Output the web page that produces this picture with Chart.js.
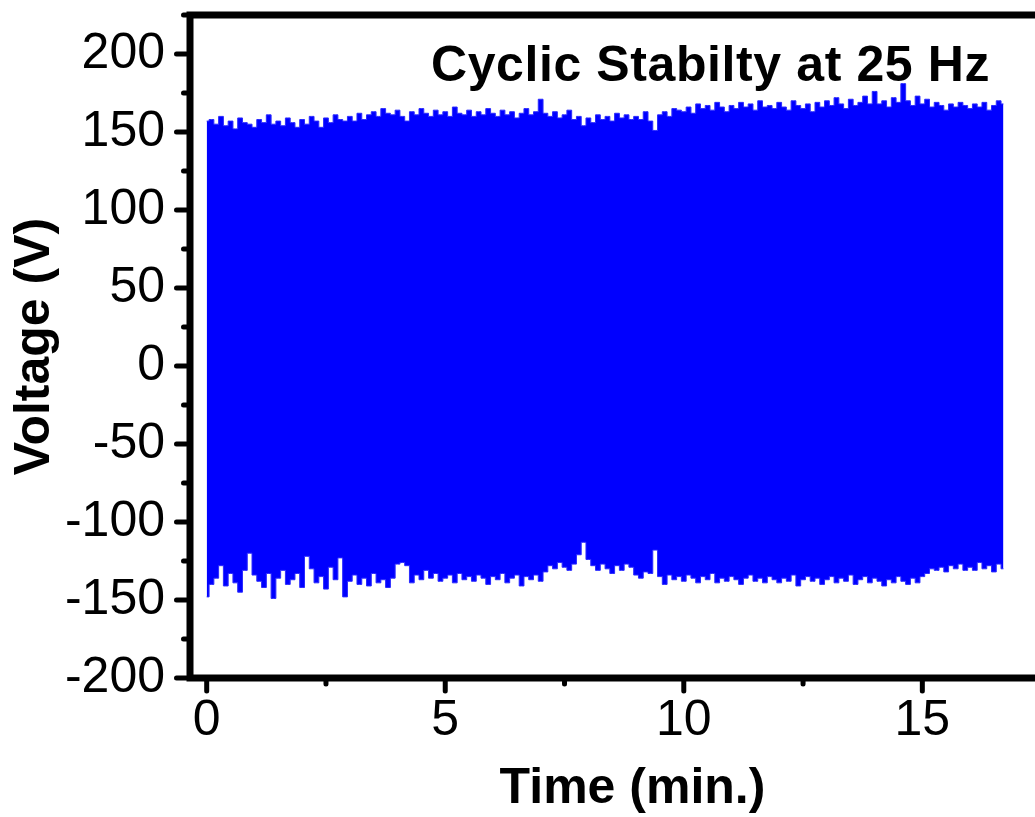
<!DOCTYPE html>
<html><head><meta charset="utf-8">
<script src="https://cdn.jsdelivr.net/npm/chart.js@4.4.1/dist/chart.umd.min.js"></script>
<style>
html,body{margin:0;padding:0;overflow:hidden;background:#fff;width:1035px;height:817px}
#wrap{position:absolute;left:0;top:0;width:1090px;height:817px}
</style>
</head><body><div id="wrap"><canvas id="c" width="1090" height="817"></canvas></div>
<script>
// time axis (min), sampled every 0.1 min
const times = [
0,0.1,0.2,0.3,0.4,0.5,0.6,0.7,0.8,0.9,
1,1.1,1.2,1.3,1.4,1.5,1.6,1.7,1.8,1.9,
2,2.1,2.2,2.3,2.4,2.5,2.6,2.7,2.8,2.9,
3,3.1,3.2,3.3,3.4,3.5,3.6,3.7,3.8,3.9,
4,4.1,4.2,4.3,4.4,4.5,4.6,4.7,4.8,4.9,
5,5.1,5.2,5.3,5.4,5.5,5.6,5.7,5.8,5.9,
6,6.1,6.2,6.3,6.4,6.5,6.6,6.7,6.8,6.9,
7,7.1,7.2,7.3,7.4,7.5,7.6,7.7,7.8,7.9,
8,8.1,8.2,8.3,8.4,8.5,8.6,8.7,8.8,8.9,
9,9.1,9.2,9.3,9.4,9.5,9.6,9.7,9.8,9.9,
10,10.1,10.2,10.3,10.4,10.5,10.6,10.7,10.8,10.9,
11,11.1,11.2,11.3,11.4,11.5,11.6,11.7,11.8,11.9,
12,12.1,12.2,12.3,12.4,12.5,12.6,12.7,12.8,12.9,
13,13.1,13.2,13.3,13.4,13.5,13.6,13.7,13.8,13.9,
14,14.1,14.2,14.3,14.4,14.5,14.6,14.7,14.8,14.9,
15,15.1,15.2,15.3,15.4,15.5,15.6,15.7,15.8,15.9,
16,16.1,16.2,16.3,16.4,16.5,16.6,16.7
];
// upper envelope of the voltage signal (V)
const upperV = [
157,158,155,160,154,157,152,159,156,155,
153,158,156,161,155,157,154,159,156,153,
158,155,160,157,153,159,156,161,158,157,
160,157,162,158,161,163,160,165,162,161,
164,160,157,163,161,165,162,160,164,161,
163,160,166,162,161,164,160,163,161,165,
162,160,164,161,163,159,162,165,161,163,
171,162,160,163,159,161,164,158,160,154,
159,156,161,158,160,157,162,159,161,158,
160,158,163,157,151,161,163,160,165,164,
163,166,162,168,165,167,164,169,166,163,
167,165,169,166,168,164,170,166,167,165,
169,166,164,170,167,165,168,163,169,166,
170,167,172,168,165,171,167,169,173,168,
176,168,170,166,172,169,181,170,167,173,
168,171,166,169,167,164,168,166,169,167,
165,168,166,169,164,167,170,168
];
// lower envelope of the voltage signal (V)
const lowerV = [
-148,-140,-136,-128,-141,-133,-139,-145,-131,-120,
-134,-138,-142,-133,-149,-136,-131,-140,-137,-133,
-142,-122,-130,-139,-135,-143,-129,-137,-123,-148,
-138,-134,-140,-136,-141,-133,-139,-137,-142,-136,
-127,-126,-128,-139,-134,-137,-131,-136,-133,-138,
-136,-134,-139,-133,-137,-135,-138,-134,-136,-140,
-135,-137,-133,-139,-136,-134,-141,-135,-137,-134,
-138,-132,-128,-130,-126,-129,-131,-127,-121,-113,
-124,-128,-131,-127,-130,-133,-128,-131,-127,-129,
-134,-136,-132,-133,-118,-135,-140,-134,-137,-135,
-138,-134,-136,-139,-135,-137,-133,-139,-136,-138,
-135,-137,-140,-136,-134,-138,-136,-139,-135,-137,
-139,-136,-138,-134,-141,-137,-135,-138,-136,-140,
-137,-135,-139,-136,-138,-134,-140,-137,-135,-139,
-136,-138,-141,-137,-139,-135,-138,-140,-136,-139,
-135,-133,-130,-131,-129,-132,-128,-130,-127,-131,
-129,-131,-126,-130,-128,-132,-127,-130
];
const yTickLabels = [-200,-150,-100,-50,0,50,100,150,200];
const xTickLabels = [0,5,10,15];
const chartTitle = 'Cyclic Stabilty at 25 Hz';
const xTitle = 'Time (min.)';
const yTitle = 'Voltage (V)';

const FAM = '"Liberation Sans", Arial, Helvetica, sans-serif';
const BLUE = '#0000ff';

const framePlugin = {
  id: 'frame',
  afterDraw(chart) {
    const {ctx, chartArea: a, scales: {x, y}} = chart;
    ctx.save();
    ctx.strokeStyle = '#000';
    ctx.lineWidth = 7;
    ctx.lineCap = 'square';
    ctx.strokeRect(a.left, a.top, a.right - a.left, a.bottom - a.top);
    ctx.lineWidth = 5;
    ctx.lineCap = 'round';
    y.ticks.forEach(t => {
      const py = y.getPixelForValue(t.value);
      const major = yTickLabels.includes(t.value);
      const len = major ? 10 : 3;
      ctx.beginPath(); ctx.moveTo(a.left - 3.5, py); ctx.lineTo(a.left - 3.5 - len, py); ctx.stroke();
    });
    x.ticks.forEach(t => {
      const px = x.getPixelForValue(t.value);
      const major = xTickLabels.includes(t.value);
      const len = major ? 9.5 : 2.5;
      ctx.beginPath(); ctx.moveTo(px, a.bottom + 3.5); ctx.lineTo(px, a.bottom + 3.5 + len); ctx.stroke();
    });
    ctx.fillStyle = '#000';
    ctx.font = 'bold 50px ' + FAM;
    ctx.letterSpacing = '0.6px';
    ctx.textAlign = 'right';
    ctx.textBaseline = 'alphabetic';
    ctx.fillText(chartTitle, a.right - 85, 81);
    ctx.restore();
  }
};

new Chart(document.getElementById('c'), {
  type: 'line',
  data: {
    datasets: [
      {data: times.map((t, i) => ({x: t, y: upperV[i]})), borderColor: '#2a2aff', borderWidth: 1, pointRadius: 0, fill: false, stepped: 'middle'},
      {data: times.map((t, i) => ({x: t, y: lowerV[i]})), borderColor: '#2a2aff', borderWidth: 1, pointRadius: 0, fill: '-1', backgroundColor: BLUE, stepped: 'middle'}
    ]
  },
  options: {
    responsive: false,
    animation: false,
    devicePixelRatio: 1,
    layout: {padding: {top: 15, right: 15, left: 0, bottom: 0}},
    plugins: {legend: {display: false}, tooltip: {enabled: false}, title: {display: false}},
    scales: {
      x: {
        type: 'linear', min: -0.35, max: 18.2,
        afterFit(s) { s.height = 139; s.paddingLeft = 0; s.paddingRight = 0; },
        grid: {display: false, drawTicks: true, tickLength: 16},
        border: {display: false},
        ticks: {stepSize: 2.5, includeBounds: false, autoSkip: false, maxRotation: 0, minRotation: 0, padding: -3,
          color: '#000', font: {family: FAM, size: 50},
          callback: v => xTickLabels.includes(v) ? String(v) : ''},
        title: {display: true, text: xTitle, color: '#000', font: {family: FAM, size: 50, weight: 'bold'}, padding: {top: 0, bottom: -2}}
      },
      y: {
        type: 'linear', min: -200, max: 225,
        afterFit(s) { s.width = 190; s.paddingTop = 0; s.paddingBottom = 0; },
        grid: {display: false, drawTicks: true, tickLength: 16},
        border: {display: false},
        ticks: {stepSize: 25, includeBounds: false, autoSkip: false, padding: 9,
          color: '#000', font: {family: FAM, size: 50},
          callback: v => yTickLabels.includes(v) ? String(v) : ''},
        title: {display: true, text: yTitle, color: '#000', font: {family: FAM, size: 50, weight: 'bold'}, padding: {top: 5, bottom: 0}}
      }
    }
  },
  plugins: [framePlugin]
});
</script>
</body></html>
